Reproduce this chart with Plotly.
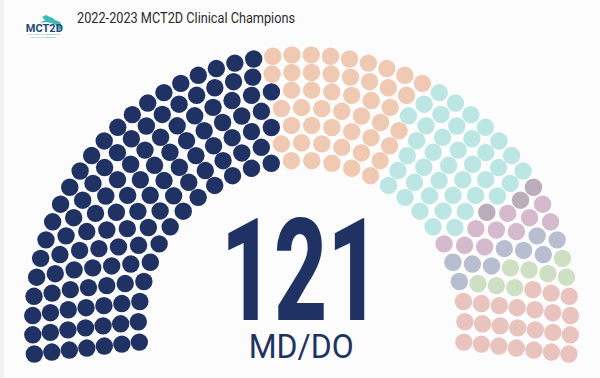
import math
import plotly.graph_objects as go

# Data
categories = ["MD/DO", "Group 2", "Group 3", "Group 4", "Group 5", "Group 6", "Group 7", "Group 8"]
seat_counts = [121, 47, 40, 3, 10, 9, 8, 24]
colors = ["#1f3263", "#efc9b2", "#bbe6e4", "#b9aeb9", "#d5b9cc", "#b8bdd0", "#cfdfc3", "#e9c3bd"]
row_capacity = [28, 31, 34, 37, 40, 44, 48]
headline = "121"
headline_label = "MD/DO"
title = "2022-2023 MCT2D Clinical Champions"

# Layout of the semicircle, in pixels of the 600x378 window
W, H = 600, 378
CX, CY = 301.6, 323.7
R_IN, R_OUT = 163.3, 269.0
OVERHANG = 6.47  # degrees below horizontal

slots = []
for i, n in enumerate(row_capacity):
    r = R_IN + (R_OUT - R_IN) * i / (len(row_capacity) - 1)
    for j in range(n):
        a = 180 + OVERHANG - (180 + 2 * OVERHANG) * j / (n - 1)
        slots.append((-a, i, r))
slots.sort(key=lambda s: (s[0], s[1]))

fig = go.Figure()
k = 0
for name, count, col in zip(categories, seat_counts, colors):
    part = slots[k:k + count]
    k += count
    fig.add_trace(go.Scatter(
        x=[p[2] * math.cos(math.radians(-p[0])) for p in part],
        y=[p[2] * math.sin(math.radians(-p[0])) for p in part],
        mode="markers", name=name, hoverinfo="name",
        marker=dict(size=17.4, color=col, line=dict(width=0)),
    ))

def px(x):
    return x / W

def py(y):
    return 1 - y / H

ann = [
    dict(text=title, x=px(186), y=py(18), font=dict(family="Roboto", size=14, color="#2b2b2d")),
    dict(text=headline, x=px(300.5), y=py(271), font=dict(family="Roboto", size=143, color="#1f3263", weight=800)),
    dict(text=headline_label, x=px(301.5), y=py(346), font=dict(family="Roboto", size=33, color="#1f3263")),
    dict(text="MCT2D", x=px(44), y=py(28), font=dict(family="Roboto", size=11.5, color="#1f4a78", weight="bold")),
    dict(text="MICHIGAN COLLABORATIVE", x=px(43.5), y=py(35), font=dict(family="Roboto", size=2.5, color="#45b5b5")),
    dict(text="FOR TYPE 2 DIABETES", x=px(43.5), y=py(38), font=dict(family="Roboto", size=2.2, color="#45b5b5")),
]
for a in ann:
    a.update(xref="paper", yref="paper", showarrow=False, xanchor="center", yanchor="middle")

def logo_path(points):
    return "M " + " L ".join(f"{x/W:.4f},{1-y/H:.4f}" for x, y in points) + " Z"

shapes = [
    dict(type="rect", xref="paper", yref="paper", x0=0, x1=4 / W, y0=0, y1=1, fillcolor="#f1f1f2", line_width=0, layer="below"),
    dict(type="path", xref="paper", yref="paper", line_width=0, fillcolor="#3fb8b8",
         path=logo_path([(42, 17), (46, 15), (50, 17), (53, 18), (55, 20), (60, 22), (62, 27), (59, 31), (56, 25), (51, 23), (46, 22), (40, 23), (45, 20)])),
]

fig.update_layout(
    width=W, height=H, margin=dict(l=0, r=0, t=0, b=0),
    paper_bgcolor="#fcfcfd", plot_bgcolor="#fcfcfd", showlegend=False,
    xaxis=dict(range=[-CX, W - CX], visible=False, fixedrange=True),
    yaxis=dict(range=[CY - H, CY], visible=False, fixedrange=True),
    annotations=ann, shapes=shapes,
)

fit = """
document.body.style.margin = '0';
document.documentElement.style.overflow = 'hidden';
var t = document.querySelectorAll('.annotation-text');
var lengths = [218, 160, 105, 37, 32, 26];
t.forEach(function (e, i) {
  e.setAttribute('textLength', lengths[i]);
  e.setAttribute('lengthAdjust', 'spacingAndGlyphs');
});
"""
fig.write_html("out.html", post_script=fit, config=dict(displayModeBar=False))
